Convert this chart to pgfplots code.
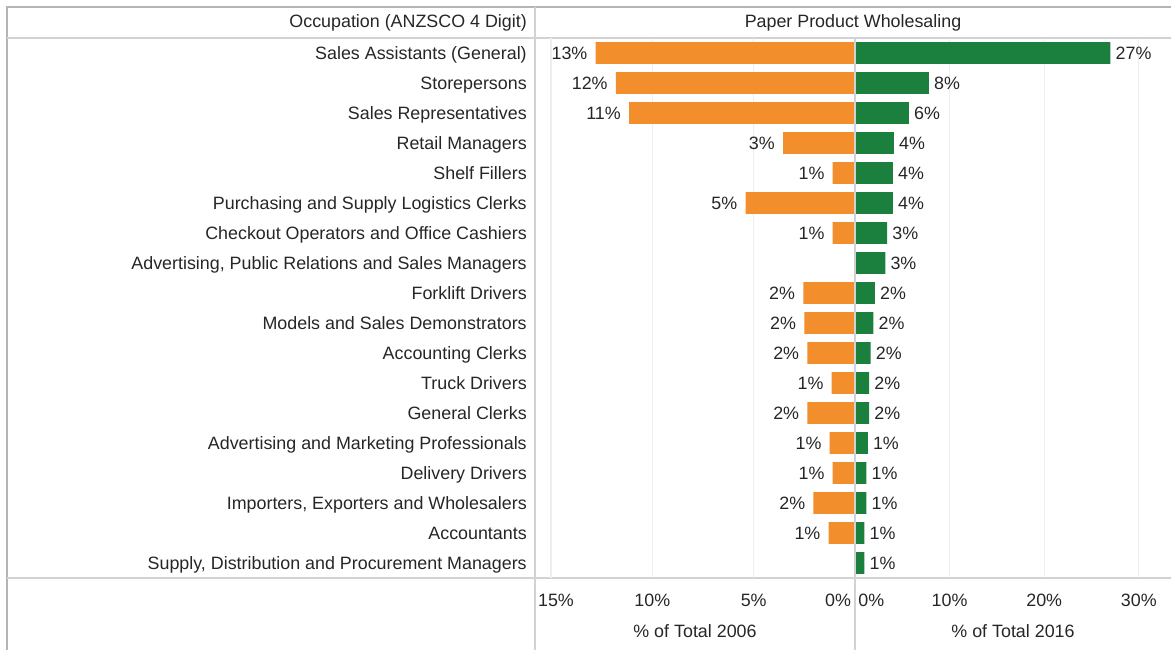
\documentclass[border=0pt]{standalone}
\usepackage{fontspec}
\setmainfont{Liberation Sans}
\usepackage{pgfplots}
\pgfplotsset{compat=1.18}

\definecolor{barorange}{HTML}{F28E2B}
\definecolor{bargreen}{HTML}{1B7F3E}
\definecolor{framegray}{HTML}{B4B4B4}
\definecolor{rulegray}{HTML}{D2D2D2}
\definecolor{gridgray}{HTML}{EEEEEE}
\definecolor{txt}{HTML}{262626}

\newcommand{\lbl}{\fontsize{13.4}{15}\selectfont}

% 1 px of the reference = 0.75pt
\pgfplotsset{
  panel/.style={
    scale only axis, height=405pt,
    xbar, bar width=0.72,
    ymin=0.5, ymax=18.5, ytick=\empty,
    axis line style={draw=none},
    major tick length=0pt,
    xmajorgrids, grid style={gridgray, line width=0.8pt},
    tick label style={font=\lbl, text=txt},
    xticklabel style={inner sep=0pt, anchor=north, yshift=-11.5pt},
    xlabel style={at={(axis description cs:0.5,0)}, anchor=center,
                  yshift=-39.75pt, font=\lbl, text=txt},
    point meta=explicit symbolic,
    nodes near coords,
    nodes near coords style={font=\lbl, text=txt, inner sep=0pt},
    clip=false,
  }
}

\begin{document}
\begin{tikzpicture}
\useasboundingbox (0,0) rectangle (878.25pt,-487.5pt);

\begin{scope}[x=0.75pt, y=-0.75pt]
\draw[framegray, line width=0.8pt] (7,650) -- (7,7) -- (1171,7);
\draw[rulegray, line width=0.8pt] (7,38) -- (1171,38);
\draw[rulegray, line width=0.8pt] (7,578) -- (1171,578);
\draw[rulegray, line width=0.8pt] (535,7) -- (535,650);
\node[anchor=east, font=\lbl, text=txt, inner sep=0pt] at (527,23) {Occupation (ANZSCO 4 Digit)};
\node[font=\lbl, text=txt, inner sep=0pt] at (853,23) {Paper Product Wholesaling};
\end{scope}

% 2006
\begin{axis}[panel, at={(521.25pt,-231pt)}, anchor=center, width=240pt,
  x dir=reverse, xmin=0, xmax=15.79,
  xtick={0,5,10,15},
  xticklabels={\llap{0\%\hspace{3pt}}, 5\%, 10\%, \hspace*{7.5pt}15\%},
  ytick={1,...,18},
  yticklabels={{Supply, Distribution and Procurement Managers},
    Accountants,
    {Importers, Exporters and Wholesalers},
    Delivery Drivers,
    Advertising and Marketing Professionals,
    General Clerks,
    Truck Drivers,
    Accounting Clerks,
    Models and Sales Demonstrators,
    Forklift Drivers,
    {Advertising, Public Relations and Sales Managers},
    Checkout Operators and Office Cashiers,
    Purchasing and Supply Logistics Clerks,
    Shelf Fillers,
    Retail Managers,
    Sales Representatives,
    Storepersons,
    Sales Assistants (General)},
  yticklabel style={anchor=base east, inner sep=0pt, xshift=-6pt, yshift=-4.6pt},
  xlabel={\% of Total 2006},
  nodes near coords style={anchor=base east, xshift=-6pt, yshift=-4.6pt},
]
\addplot[fill=barorange, draw=none] coordinates {
  (12.80,18) [13\%]
  (11.80,17) [12\%]
  (11.15,16) [11\%]
  (3.55,15)  [3\%]
  (1.10,14)  [1\%]
  (5.40,13)  [5\%]
  (1.10,12)  [1\%]
  (2.55,10)  [2\%]
  (2.50,9)   [2\%]
  (2.35,8)   [2\%]
  (1.15,7)   [1\%]
  (2.35,6)   [2\%]
  (1.25,5)   [1\%]
  (1.10,4)   [1\%]
  (2.05,3)   [2\%]
  (1.30,2)   [1\%]
};
\end{axis}

% 2016
\begin{axis}[panel, at={(759.75pt,-231pt)}, anchor=center, width=237pt,
  xmin=0, xmax=33.4,
  xtick={0,10,20,30},
  xticklabels={\rlap{\hspace{2.5pt}0\%}, 10\%, 20\%, 30\%},
  xlabel={\% of Total 2016},
  nodes near coords style={anchor=base west, xshift=3.75pt, yshift=-4.6pt},
]
\addplot[fill=bargreen, draw=none] coordinates {
  (27.0,18) [27\%]
  (7.80,17) [8\%]
  (5.70,16) [6\%]
  (4.10,15) [4\%]
  (4.00,14) [4\%]
  (4.00,13) [4\%]
  (3.40,12) [3\%]
  (3.20,11) [3\%]
  (2.10,10) [2\%]
  (1.95,9)  [2\%]
  (1.65,8)  [2\%]
  (1.50,7)  [2\%]
  (1.50,6)  [2\%]
  (1.35,5)  [1\%]
  (1.20,4)  [1\%]
  (1.20,3)  [1\%]
  (1.00,2)  [1\%]
  (1.00,1)  [1\%]
};
\end{axis}

\draw[rulegray, line width=1pt] (641.25pt,-28.5pt) -- (641.25pt,-487.5pt);
\end{tikzpicture}
\end{document}
